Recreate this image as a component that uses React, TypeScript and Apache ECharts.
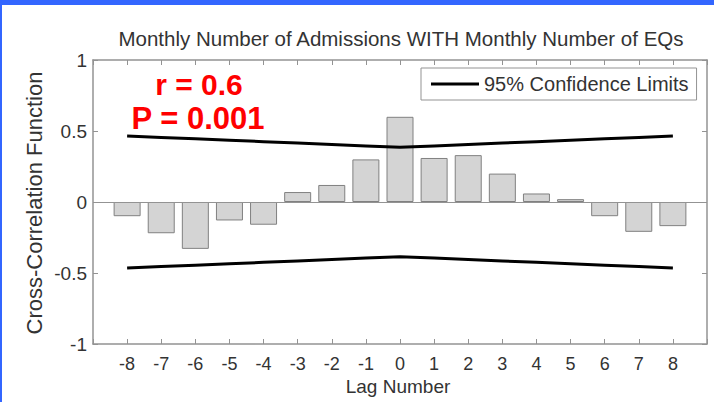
import React, { useEffect, useRef } from "react";
import * as echarts from "echarts";

const lags = [-8, -7, -6, -5, -4, -3, -2, -1, 0, 1, 2, 3, 4, 5, 6, 7, 8];
const ccf = [-0.1, -0.22, -0.33, -0.13, -0.16, 0.07, 0.12, 0.3, 0.6, 0.31, 0.33, 0.2, 0.06, 0.02, -0.1, -0.21, -0.17];
const upperLimit = [0.465, 0.455, 0.445, 0.435, 0.425, 0.415, 0.405, 0.395, 0.385, 0.395, 0.405, 0.415, 0.425, 0.435, 0.445, 0.455, 0.465];
const lowerLimit = [-0.465, -0.455, -0.445, -0.435, -0.425, -0.415, -0.405, -0.395, -0.385, -0.395, -0.405, -0.415, -0.425, -0.435, -0.445, -0.455, -0.465];
const yTicks = [-1, -0.5, 0, 0.5, 1];

const FONT = "'Liberation Sans', Arial, sans-serif";

export default function App() {
  const ref = useRef<HTMLDivElement>(null);
  useEffect(() => {
    const chart = echarts.init(ref.current!, null, { renderer: "svg" });
    const axisColor = "#939393";
    const labelColor = "#333";
    const baseX = {
      type: "value",
      min: -9,
      max: 9,
      interval: 1,
      splitLine: { show: false },
      axisLine: { onZero: false, lineStyle: { color: axisColor, width: 1.5 } },
      axisTick: { inside: true, length: 5, lineStyle: { color: axisColor } },
    };
    const baseY = {
      type: "value",
      min: yTicks[0],
      max: yTicks[yTicks.length - 1],
      interval: 0.5,
      splitLine: { show: false },
      axisLine: { onZero: false, lineStyle: { color: axisColor, width: 1.5 } },
      axisTick: { inside: true, length: 5, lineStyle: { color: axisColor } },
    };
    chart.setOption({
      animation: false,
      backgroundColor: "#ffffff",
      grid: { left: 93, right: 7, top: 60, bottom: 58 },
      xAxis: [
        {
          ...baseX,
          position: "bottom",
          axisLabel: {
            color: labelColor,
            fontSize: 18,
            fontFamily: FONT,
            margin: 11,
            formatter: (v: number) => (Math.abs(v) === 9 ? "" : String(v)),
          },
        },
        { ...baseX, position: "top", axisLabel: { show: false } },
      ],
      yAxis: [
        {
          ...baseY,
          position: "left",
          axisLabel: { color: labelColor, fontSize: 19, fontFamily: FONT, margin: 6 },
        },
        { ...baseY, position: "right", axisLabel: { show: false } },
      ],
      legend: {
        data: ["95% Confidence Limits"],
        left: 421,
        top: 68,
        borderColor: axisColor,
        borderWidth: 1,
        borderRadius: 0,
        padding: [6, 8, 6, 10],
        itemWidth: 48,
        itemHeight: 3,
        icon: "rect",
        itemGap: 7,
        textStyle: { fontSize: 20, fontFamily: FONT, color: labelColor },
      },
      series: [
        {
          type: "bar",
          name: "CCF",
          data: lags.map((l, i) => [l, ccf[i]]),
          barWidth: 27,
          itemStyle: { color: "#d4d4d4", borderColor: "#808080", borderWidth: 1 },
          markLine: {
            silent: true,
            symbol: "none",
            label: { show: false },
            lineStyle: { color: axisColor, type: "solid", width: 1.2 },
            data: [{ yAxis: 0 }],
          },
        },
        {
          type: "line",
          name: "95% Confidence Limits",
          data: lags.map((l, i) => [l, upperLimit[i]]),
          showSymbol: false,
          symbol: "none",
          itemStyle: { color: "#000" },
          lineStyle: { color: "#000", width: 3 },
        },
        {
          type: "line",
          name: "Lower Limit",
          data: lags.map((l, i) => [l, lowerLimit[i]]),
          showSymbol: false,
          symbol: "none",
          itemStyle: { color: "#000" },
          lineStyle: { color: "#000", width: 3 },
        },
      ],
      graphic: [
        { type: "rect", left: 0, top: 0, shape: { width: 714, height: 5 }, style: { fill: "#3366ff" } },
        { type: "rect", left: 0, top: 0, shape: { width: 2, height: 402 }, style: { fill: "#3366ff" } },
        {
          type: "text",
          x: 401,
          y: 38,
          style: {
            text: "Monthly Number of Admissions WITH Monthly Number of EQs",
            fill: "#333",
            font: `20.5px ${FONT}`,
            align: "center",
            verticalAlign: "middle",
          },
        },
        {
          type: "text",
          x: 34,
          y: 203,
          rotation: Math.PI / 2,
          style: {
            text: "Cross-Correlation Function",
            fill: "#333",
            font: `22px ${FONT}`,
            align: "center",
            verticalAlign: "middle",
          },
        },
        {
          type: "text",
          x: 398,
          y: 386,
          style: {
            text: "Lag Number",
            fill: "#333",
            font: `19px ${FONT}`,
            align: "center",
            verticalAlign: "middle",
          },
        },
        {
          type: "text",
          x: 199,
          y: 84,
          style: { text: "r = 0.6", fill: "#ff0000", font: `bold 30px ${FONT}`, align: "center", verticalAlign: "middle" },
        },
        {
          type: "text",
          x: 198,
          y: 118,
          style: { text: "P = 0.001", fill: "#ff0000", font: `bold 31px ${FONT}`, align: "center", verticalAlign: "middle" },
        },
      ],
    });
    return () => chart.dispose();
  }, []);
  return <div ref={ref} style={{ position: "fixed", left: 0, top: 0, width: 714, height: 402 }} />;
}
